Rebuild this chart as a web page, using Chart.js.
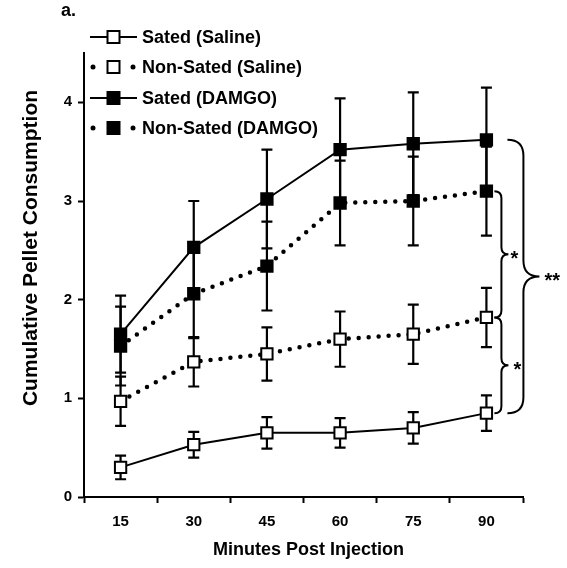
<!DOCTYPE html>
<html>
<head>
<meta charset="utf-8">
<script src="https://cdn.jsdelivr.net/npm/chart.js@4.4.1/dist/chart.umd.min.js"></script>
<style>
  html, body { margin: 0; padding: 0; background: #fff; }
  #wrap { width: 567px; height: 568px; }
</style>
</head>
<body>
<div id="wrap"><canvas id="pellets"></canvas></div>
<script>
// minutes after injection
var minutes = ["15", "30", "45", "60", "75", "90"];
var yTicks = [0, 1, 2, 3, 4];

var satedSaline = [0.30, 0.53, 0.65, 0.65, 0.70, 0.85];
var satedSalineErr = [0.12, 0.13, 0.16, 0.15, 0.16, 0.18];
var nonSatedSaline = [0.97, 1.37, 1.45, 1.60, 1.65, 1.82];
var nonSatedSalineErr = [0.25, 0.25, 0.27, 0.28, 0.30, 0.30];
var satedDamgo = [1.65, 2.53, 3.02, 3.52, 3.58, 3.62];
var satedDamgoErr = [0.39, 0.47, 0.50, 0.52, 0.52, 0.53];
var nonSatedDamgo = [1.53, 2.06, 2.34, 2.98, 3.00, 3.10];
var nonSatedDamgoErr = [0.40, 0.45, 0.45, 0.43, 0.45, 0.45];

var FONT = "'Liberation Sans', Arial, sans-serif";

function series(label, data, err, filled, dotted) {
  return {
    label: label,
    data: data,
    err: err,
    dotted: dotted,
    borderColor: "#000",
    borderWidth: dotted ? 4.5 : 2,
    borderDash: dotted ? [0, 10] : [],
    borderCapStyle: dotted ? "round" : "butt",
    backgroundColor: filled ? "#000" : "#fff",
    pointStyle: "rect",
    pointRadius: 8,
    pointHoverRadius: 8,
    pointBorderWidth: 2,
    pointBorderColor: "#000",
    pointBackgroundColor: filled ? "#000" : "#fff",
    tension: 0,
    fill: false
  };
}

// SEM whiskers, drawn under the markers
var errorBars = {
  id: "errorBars",
  beforeDatasetsDraw: function (chart) {
    var ctx = chart.ctx, y = chart.scales.y;
    ctx.save();
    ctx.strokeStyle = "#000";
    ctx.lineWidth = 2.2;
    chart.data.datasets.forEach(function (ds, i) {
      var meta = chart.getDatasetMeta(i);
      meta.data.forEach(function (pt, j) {
        var top = y.getPixelForValue(ds.data[j] + ds.err[j]);
        var bot = y.getPixelForValue(ds.data[j] - ds.err[j]);
        ctx.beginPath();
        ctx.moveTo(pt.x, top); ctx.lineTo(pt.x, bot);
        ctx.moveTo(pt.x - 5.5, top); ctx.lineTo(pt.x + 5.5, top);
        ctx.moveTo(pt.x - 5.5, bot); ctx.lineTo(pt.x + 5.5, bot);
        ctx.stroke();
      });
    });
    ctx.restore();
  }
};

function brace(ctx, x, y1, y2, w) {
  var xs = x + w / 2, ym = (y1 + y2) / 2, r = w / 2;
  ctx.beginPath();
  ctx.moveTo(x, y1);
  ctx.quadraticCurveTo(xs, y1, xs, y1 + r);
  ctx.lineTo(xs, ym - r);
  ctx.quadraticCurveTo(xs, ym, x + w, ym);
  ctx.quadraticCurveTo(xs, ym, xs, ym + r);
  ctx.lineTo(xs, y2 - r);
  ctx.quadraticCurveTo(xs, y2, x, y2);
  ctx.stroke();
}

// legend, panel letter, axis titles and significance braces
var extras = {
  id: "extras",
  afterDraw: function (chart) {
    var ctx = chart.ctx, xs = chart.scales.x, ys = chart.scales.y;
    var area = chart.chartArea;
    ctx.save();
    ctx.fillStyle = "#000";
    ctx.strokeStyle = "#000";

    ctx.font = "bold 18px " + FONT;
    ctx.textBaseline = "middle";
    ctx.textAlign = "left";
    ctx.fillText("a.", 61, 11);

    // legend
    var rows = [37, 67, 98, 128];
    chart.data.datasets.forEach(function (ds, i) {
      var yy = rows[i], x0 = 90, x1 = 137, xm = (x0 + x1) / 2;
      if (ds.dotted) {
        [x0 + 3, x1 - 4].forEach(function (dx) {
          ctx.beginPath();
          ctx.arc(dx, yy, 2.5, 0, Math.PI * 2);
          ctx.fill();
        });
      } else {
        ctx.lineWidth = ds.borderWidth;
        ctx.beginPath();
        ctx.moveTo(x0, yy); ctx.lineTo(x1, yy);
        ctx.stroke();
      }
      ctx.save();
      ctx.fillStyle = ds.pointBackgroundColor;
      ctx.lineWidth = 2;
      ctx.beginPath();
      var s = 6;
      ctx.rect(xm - s, yy - s, 2 * s, 2 * s);
      ctx.fill(); ctx.stroke();
      ctx.restore();
      ctx.font = "bold 18px " + FONT;
      ctx.fillText(ds.label, 142, yy + 1);
    });

    // axis titles
    ctx.textAlign = "center";
    ctx.font = "bold 18px " + FONT;
    ctx.fillText("Minutes Post Injection", (area.left + area.right) / 2 + 5, 550);
    ctx.save();
    ctx.translate(31, 248);
    ctx.rotate(-Math.PI / 2);
    ctx.font = "bold 21px " + FONT;
    ctx.fillText("Cumulative Pellet Consumption", 0, 0);
    ctx.restore();

    // braces at the last time point
    var last = minutes.length - 1;
    var xl = xs.getPixelForValue(last);
    var pSD = ys.getPixelForValue(satedDamgo[last]);
    var pND = ys.getPixelForValue(nonSatedDamgo[last]);
    var pNS = ys.getPixelForValue(nonSatedSaline[last]);
    var pSS = ys.getPixelForValue(satedSaline[last]);
    ctx.lineWidth = 2;
    brace(ctx, xl + 8, pND, pNS, 14);
    brace(ctx, xl + 8, pNS, pSS, 14);
    brace(ctx, xl + 21, pSD, pSS, 32);
    ctx.font = "bold 20px " + FONT;
    ctx.textAlign = "left";
    ctx.fillText("*", xl + 24, (pND + pNS) / 2 + 5);
    ctx.fillText("*", xl + 27, (pNS + pSS) / 2 + 5);
    ctx.fillText("**", xl + 58, (pSD + pSS) / 2 + 5);
    ctx.restore();
  }
};

new Chart(document.getElementById("pellets"), {
  type: "line",
  data: {
    labels: minutes,
    datasets: [
      series("Sated (Saline)", satedSaline, satedSalineErr, false, false),
      series("Non-Sated (Saline)", nonSatedSaline, nonSatedSalineErr, false, true),
      series("Sated (DAMGO)", satedDamgo, satedDamgoErr, true, false),
      series("Non-Sated (DAMGO)", nonSatedDamgo, nonSatedDamgoErr, true, true)
    ]
  },
  options: {
    responsive: true,
    maintainAspectRatio: false,
    animation: false,
    layout: { padding: { left: 0, right: 44, top: 53, bottom: 0 } },
    plugins: {
      legend: { display: false },
      title: { display: false },
      tooltip: { enabled: false }
    },
    scales: {
      x: {
        type: "category",
        offset: true,
        grid: { offset: true, drawOnChartArea: false, tickLength: 6, tickWidth: 2, color: "#000" },
        border: { color: "#000", width: 2 },
        ticks: { color: "#000", font: { family: FONT, size: 15, weight: "bold" }, padding: 10, maxRotation: 0 },
        afterFit: function (s) { s.height = 71; }
      },
      y: {
        min: 0,
        max: 4.5,
        afterBuildTicks: function (s) {
          s.ticks = yTicks.map(function (v) { return { value: v }; });
        },
        grid: { drawOnChartArea: false, tickLength: 6, tickWidth: 2, color: "#000" },
        border: { color: "#000", width: 2 },
        ticks: { color: "#000", font: { family: FONT, size: 15, weight: "bold" }, padding: 6 },
        afterFit: function (s) { s.width = 84; }
      }
    }
  },
  plugins: [errorBars, extras]
});
</script>
</body>
</html>
